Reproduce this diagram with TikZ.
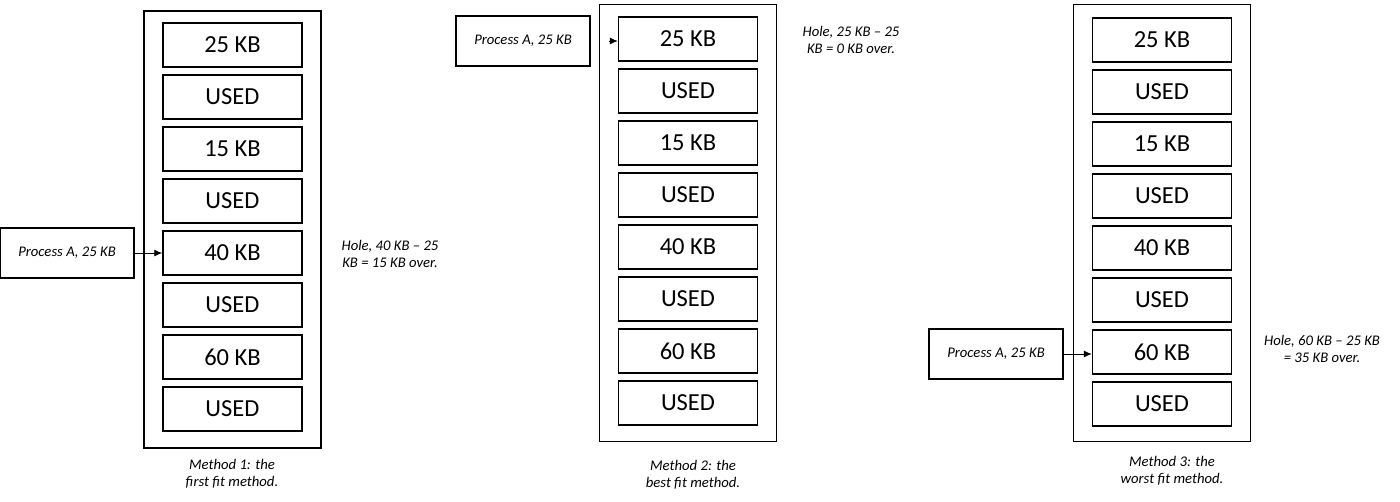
\documentclass[tikz,border=0pt]{standalone}
\usepackage{fontspec}
\setmainfont{Carlito}
\usetikzlibrary{arrows.meta,positioning}

\begin{document}
\begin{tikzpicture}[x=1pt,y=-1pt,node distance=52pt,
        memory/.style={draw,line width=1.5pt,minimum width=177pt,minimum height=437pt,inner sep=0pt},
        cell/.style={draw,fill=white,line width=1.5pt,minimum width=139pt,minimum height=44pt,inner sep=0pt,
                     font=\fontsize{24.5}{28}\selectfont},
        proc/.style={draw,line width=1.5pt,minimum width=134pt,minimum height=50pt,inner sep=0pt,
                     font=\fontsize{14.7}{17}\selectfont\itshape},
        note/.style={align=center,font=\fontsize{14.7}{17.5}\selectfont\itshape},
        feed/.style={-{Latex[length=8pt,width=7pt]},line width=0.9pt}]

        \useasboundingbox (0,0) rectangle (1400,501);

        % method 1: first fit
        \node[memory] (M1) at (232.5,229.5) { };
        \node[cell]   (A1) at (232.5,45)    {25 KB};
        \node[cell]   (A2) [below of=A1]    {USED};
        \node[cell]   (A3) [below of=A2]    {15 KB};
        \node[cell]   (A4) [below of=A3]    {USED};
        \node[cell]   (A5) [below of=A4]    {40 KB};
        \node[cell]   (A6) [below of=A5]    {USED};
        \node[cell]   (A7) [below of=A6]    {60 KB};
        \node[cell]   (A8) [below of=A7]    {USED};
        \node[proc]   (PA) at (67,253)      {Process A, 25 KB};
        \node[note]   (HA) at (390,254)     {Hole, 40 KB -- 25\\KB = 15 KB over.};
        \node[note]   (CA) at (232,474)     {Method 1: the\\first fit method.};

        % method 2: best fit
        \node[memory] (M2) at (688,223)     { };
        \node[cell]   (B1) at (688,39)      {25 KB};
        \node[cell]   (B2) [below of=B1]    {USED};
        \node[cell]   (B3) [below of=B2]    {15 KB};
        \node[cell]   (B4) [below of=B3]    {USED};
        \node[cell]   (B5) [below of=B4]    {40 KB};
        \node[cell]   (B6) [below of=B5]    {USED};
        \node[cell]   (B7) [below of=B6]    {60 KB};
        \node[cell]   (B8) [below of=B7]    {USED};
        \node[proc]   (PB) at (523,41)      {Process A, 25 KB};
        \node[note]   (HB) at (851,40)      {Hole, 25 KB -- 25\\KB = 0 KB over.};
        \node[note]   (CB) at (693,475)     {Method 2: the\\best fit method.};
        \coordinate   (TB) at (609,41);

        % method 3: worst fit
        \node[memory] (M3) at (1162,223)    { };
        \node[cell]   (C1) at (1162,40)     {25 KB};
        \node[cell]   (C2) [below of=C1]    {USED};
        \node[cell]   (C3) [below of=C2]    {15 KB};
        \node[cell]   (C4) [below of=C3]    {USED};
        \node[cell]   (C5) [below of=C4]    {40 KB};
        \node[cell]   (C6) [below of=C5]    {USED};
        \node[cell]   (C7) [below of=C6]    {60 KB};
        \node[cell]   (C8) [below of=C7]    {USED};
        \node[proc]   (PC) at (996,354)     {Process A, 25 KB};
        \node[note]   (HC) at (1322,349)    {Hole, 60 KB -- 25 KB\\= 35 KB over.};
        \node[note]   (CC) at (1172,471)    {Method 3: the\\worst fit method.};

        \draw[feed] (PA.east) -- (A5.west);
        \draw[feed] (TB)      -- (TB -| B1.west);
        \draw[feed] (PC.east) -- (PC.east -| C7.west);
\end{tikzpicture}
\end{document}
